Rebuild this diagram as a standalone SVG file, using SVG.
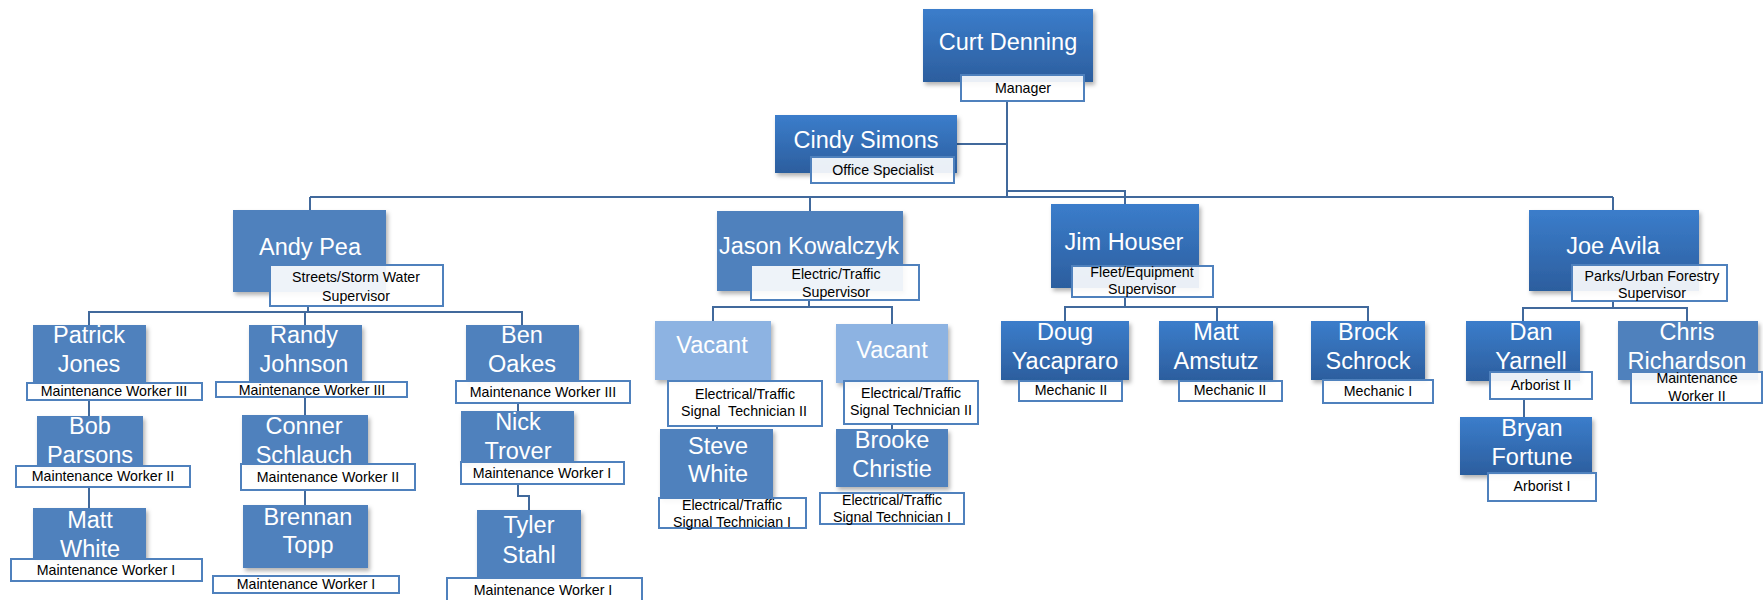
<svg xmlns="http://www.w3.org/2000/svg" width="1763" height="600" viewBox="0 0 1763 600">
<defs>
<linearGradient id="gr" x1="0" y1="0" x2="0" y2="1">
<stop offset="0" stop-color="#3b7dcb"/>
<stop offset="1" stop-color="#2c5e9e"/>
</linearGradient>
<filter id="sh" x="-10%" y="-10%" width="130%" height="140%">
<feDropShadow dx="2" dy="3" stdDeviation="2" flood-color="#000" flood-opacity="0.3"/>
</filter>
</defs>
<style>
.g{fill:url(#gr);filter:url(#sh)}
.f{fill:#4f81bd;filter:url(#sh)}
.v{fill:#8db3e2;filter:url(#sh)}
.l{fill:#fff;fill-opacity:0.9;stroke:#4f81bd;stroke-width:2}
.n{font-family:"Liberation Sans",Arial,sans-serif;font-size:23.5px;fill:#fff;text-anchor:middle}
.t{font-family:"Liberation Sans",Arial,sans-serif;font-size:14.2px;fill:#000;text-anchor:middle}
.c{fill:none;stroke:#41699c;stroke-width:2}
</style>
<rect width="1763" height="600" fill="#fff"/>
<g id="connectors" class="c">
<path d="M1007,101 V197"/>
<path d="M957,144 H1007"/>
<path d="M310,197 H1613"/>
<path d="M310,197 V210"/>
<path d="M810,197 V211"/>
<path d="M1007,191 H1125 V204"/>
<path d="M1613,197 V210"/>
<path d="M308,306 V312"/>
<path d="M89,325 V312 H522 V325"/>
<path d="M305,312 V325"/>
<path d="M89,400 V416"/>
<path d="M89,487 V508"/>
<path d="M305,397 V415"/>
<path d="M305,490 V505"/>
<path d="M518,403 V411"/>
<path d="M518,484 V496 H529 V510"/>
<path d="M809,300 V307"/>
<path d="M713,321 V307 H892 V324"/>
<path d="M717,426 V429"/>
<path d="M892,424 V429"/>
<path d="M1125,297 V307"/>
<path d="M1065,321 V307 H1368 V321"/>
<path d="M1217,307 V321"/>
<path d="M1613,301 V308"/>
<path d="M1523,321 V308 H1687 V321"/>
<path d="M1524,399 V417"/>
</g>
<g id="curt">
<rect class="g" x="923" y="9" width="170" height="73"/>
<text class="n" x="1008" y="50" font-size="24">Curt Denning</text>
<rect class="l" x="961" y="75" width="123" height="26"/>
<text class="t" x="1023" y="93">Manager</text>
</g>
<g id="cindy">
<rect class="g" x="775" y="115" width="182" height="58"/>
<text class="n" x="866" y="148" font-size="24">Cindy Simons</text>
<rect class="l" x="811" y="157" width="143" height="26"/>
<text class="t" x="883" y="175">Office Specialist</text>
</g>
<g id="andy">
<rect class="f" x="233" y="210" width="153" height="82"/>
<text class="n" x="310" y="255">Andy Pea</text>
<rect class="l" x="270" y="265" width="173" height="41"/>
<text class="t" x="356" y="282">Streets/Storm Water</text>
<text class="t" x="356" y="301">Supervisor</text>
</g>
<g id="jason">
<rect class="f" x="717" y="211" width="186" height="80"/>
<text class="n" x="809" y="254">Jason Kowalczyk</text>
<rect class="l" x="751" y="265" width="168" height="35"/>
<text class="t" x="836" y="279">Electric/Traffic</text>
<text class="t" x="836" y="297">Supervisor</text>
</g>
<g id="jim">
<rect class="g" x="1051" y="204" width="148" height="84"/>
<text class="n" x="1124" y="250">Jim Houser</text>
<rect class="l" x="1072" y="266" width="141" height="31"/>
<text class="t" x="1142" y="277">Fleet/Equipment</text>
<text class="t" x="1142" y="294">Supervisor</text>
</g>
<g id="joe">
<rect class="g" x="1529" y="210" width="170" height="81"/>
<text class="n" x="1613" y="254">Joe Avila</text>
<rect class="l" x="1572" y="265" width="155" height="36"/>
<text class="t" x="1652" y="281">Parks/Urban Forestry</text>
<text class="t" x="1652" y="298">Supervisor</text>
</g>
<g id="patrick">
<rect class="f" x="33" y="325" width="113" height="57"/>
<text class="n" x="89" y="343">Patrick</text>
<text class="n" x="89" y="372">Jones</text>
<rect class="l" x="27" y="383" width="175" height="17"/>
<text class="t" x="114" y="396">Maintenance Worker III</text>
</g>
<g id="bob">
<rect class="f" x="37" y="416" width="106" height="51"/>
<text class="n" x="90" y="434">Bob</text>
<text class="n" x="90" y="463">Parsons</text>
<rect class="l" x="16" y="466" width="174" height="21"/>
<text class="t" x="103" y="481">Maintenance Worker II</text>
</g>
<g id="mattw">
<rect class="f" x="33" y="508" width="113" height="52"/>
<text class="n" x="90" y="528">Matt</text>
<text class="n" x="90" y="557">White</text>
<rect class="l" x="11" y="559" width="191" height="22"/>
<text class="t" x="106" y="575">Maintenance Worker I</text>
</g>
<g id="randy">
<rect class="f" x="249" y="325" width="113" height="57"/>
<text class="n" x="304" y="343">Randy</text>
<text class="n" x="304" y="372">Johnson</text>
<rect class="l" x="216" y="382" width="191" height="15"/>
<text class="t" x="312" y="395">Maintenance Worker III</text>
</g>
<g id="conner">
<rect class="f" x="242" y="415" width="126" height="50"/>
<text class="n" x="304" y="434">Conner</text>
<text class="n" x="304" y="463">Schlauch</text>
<rect class="l" x="241" y="464" width="174" height="26"/>
<text class="t" x="328" y="482">Maintenance Worker II</text>
</g>
<g id="brennan">
<rect class="f" x="243" y="505" width="125" height="63"/>
<text class="n" x="308" y="525">Brennan</text>
<text class="n" x="308" y="553">Topp</text>
<rect class="l" x="213" y="576" width="186" height="17"/>
<text class="t" x="306" y="589">Maintenance Worker I</text>
</g>
<g id="ben">
<rect class="f" x="466" y="325" width="113" height="57"/>
<text class="n" x="522" y="343">Ben</text>
<text class="n" x="522" y="372">Oakes</text>
<rect class="l" x="456" y="381" width="174" height="22"/>
<text class="t" x="543" y="397">Maintenance Worker III</text>
</g>
<g id="nick">
<rect class="f" x="461" y="411" width="113" height="52"/>
<text class="n" x="518" y="430">Nick</text>
<text class="n" x="518" y="459">Trover</text>
<rect class="l" x="461" y="462" width="163" height="22"/>
<text class="t" x="542" y="478">Maintenance Worker I</text>
</g>
<g id="tyler">
<rect class="f" x="477" y="510" width="104" height="68"/>
<text class="n" x="529" y="533">Tyler</text>
<text class="n" x="529" y="563">Stahl</text>
<rect class="l" x="447" y="578" width="195" height="28"/>
<text class="t" x="543" y="595">Maintenance Worker I</text>
</g>
<g id="vacant1">
<rect class="v" x="655" y="321" width="116" height="59"/>
<text class="n" x="712" y="353">Vacant</text>
<rect class="l" x="668" y="381" width="154" height="45"/>
<text class="t" x="745" y="399">Electrical/Traffic</text>
<text class="t" x="744" y="416" xml:space="preserve">Signal  Technician II</text>
</g>
<g id="steve">
<rect class="f" x="660" y="429" width="113" height="70"/>
<text class="n" x="718" y="454">Steve</text>
<text class="n" x="718" y="482">White</text>
<rect class="l" x="659" y="498" width="147" height="30"/>
<text class="t" x="732" y="510">Electrical/Traffic</text>
<text class="t" x="732" y="527">Signal Technician I</text>
</g>
<g id="vacant2">
<rect class="v" x="836" y="324" width="112" height="59"/>
<text class="n" x="892" y="358">Vacant</text>
<rect class="l" x="844" y="381" width="134" height="43"/>
<text class="t" x="911" y="398">Electrical/Traffic</text>
<text class="t" x="911" y="415">Signal Technician II</text>
</g>
<g id="brooke">
<rect class="f" x="836" y="429" width="112" height="58"/>
<text class="n" x="892" y="448">Brooke</text>
<text class="n" x="892" y="477">Christie</text>
<rect class="l" x="820" y="493" width="144" height="31"/>
<text class="t" x="892" y="505">Electrical/Traffic</text>
<text class="t" x="892" y="522">Signal Technician I</text>
</g>
<g id="doug">
<rect class="g" x="1001" y="321" width="128" height="59"/>
<text class="n" x="1065" y="340">Doug</text>
<text class="n" x="1065" y="369">Yacapraro</text>
<rect class="l" x="1019" y="381" width="103" height="20"/>
<text class="t" x="1071" y="395">Mechanic II</text>
</g>
<g id="matta">
<rect class="g" x="1159" y="321" width="114" height="59"/>
<text class="n" x="1216" y="340">Matt</text>
<text class="n" x="1216" y="369">Amstutz</text>
<rect class="l" x="1179" y="381" width="103" height="20"/>
<text class="t" x="1230" y="395">Mechanic II</text>
</g>
<g id="brock">
<rect class="g" x="1311" y="321" width="114" height="59"/>
<text class="n" x="1368" y="340">Brock</text>
<text class="n" x="1368" y="369">Schrock</text>
<rect class="l" x="1323" y="380" width="110" height="23"/>
<text class="t" x="1378" y="396">Mechanic I</text>
</g>
<g id="dan">
<rect class="g" x="1466" y="321" width="114" height="60"/>
<text class="n" x="1531" y="340">Dan</text>
<text class="n" x="1531" y="369">Yarnell</text>
<rect class="l" x="1490" y="372" width="102" height="27"/>
<text class="t" x="1541" y="390">Arborist II</text>
</g>
<g id="bryan">
<rect class="g" x="1460" y="417" width="132" height="58"/>
<text class="n" x="1532" y="436">Bryan</text>
<text class="n" x="1532" y="465">Fortune</text>
<rect class="l" x="1488" y="473" width="108" height="28"/>
<text class="t" x="1542" y="491">Arborist I</text>
</g>
<g id="chris">
<rect class="f" x="1618" y="321" width="140" height="59"/>
<text class="n" x="1687" y="340">Chris</text>
<text class="n" x="1687" y="369">Richardson</text>
<rect class="l" x="1631" y="372" width="131" height="31"/>
<text class="t" x="1697" y="383">Maintenance</text>
<text class="t" x="1697" y="401">Worker II</text>
</g>
</svg>
